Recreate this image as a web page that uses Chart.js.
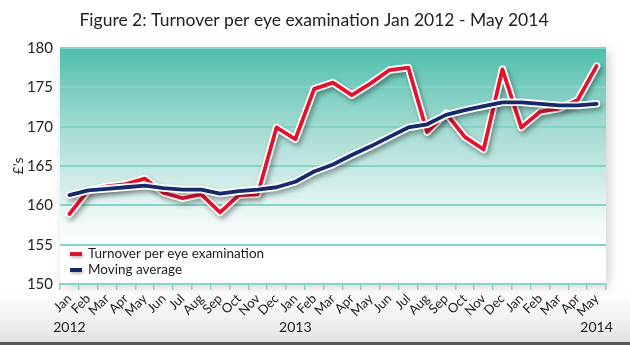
<!DOCTYPE html>
<html>
<head>
<meta charset="utf-8">
<script src="https://cdn.jsdelivr.net/npm/chart.js@4.4.1/dist/chart.umd.min.js"></script>
<style>
  html, body { margin: 0; padding: 0; background: #fff; }
  #wrap { position: relative; width: 630px; height: 345px; }
</style>
</head>
<body>
<div id="wrap"><canvas id="chart-turnover" width="630" height="345"></canvas></div>
<script>
// Months Jan 2012 - May 2014
var months = ["Jan", "Feb", "Mar", "Apr", "May", "Jun", "Jul", "Aug", "Sep", "Oct", "Nov", "Dec",
              "Jan", "Feb", "Mar", "Apr", "May", "Jun", "Jul", "Aug", "Sep", "Oct", "Nov", "Dec",
              "Jan", "Feb", "Mar", "Apr", "May"];
// year label + index of month it sits under
var years = ["2012", "2013", "2014"];
var yearIndex = [0, 12, 28];

var turnover = [158.9, 161.9, 162.4, 162.7, 163.4, 161.6, 160.9, 161.4, 159.1, 161.3, 161.4, 169.9,
                168.4, 174.8, 175.6, 174.0, 175.5, 177.2, 177.5, 169.3, 171.7, 168.7, 167.1, 177.3,
                169.9, 171.9, 172.3, 173.4, 177.7];
var movingAvg = [161.3, 161.9, 162.1, 162.3, 162.5, 162.2, 162.0, 162.0, 161.5, 161.8, 162.0, 162.3,
                 163.0, 164.3, 165.2, 166.4, 167.5, 168.7, 169.9, 170.3, 171.5, 172.1, 172.6, 173.1,
                 173.1, 172.9, 172.7, 172.7, 172.9];
var yTicks = [150, 155, 160, 165, 170, 175, 180];

var teal = "#86d4c8";
var red = "#e3122d";
var navy = "#15296b";
var fontMain = "Lato, sans-serif";

document.addEventListener("DOMContentLoaded", function() {
    var ctx = document.getElementById("chart-turnover");

    // achtergrond, titel en jaartallen
    var decor = {
        id: "decor",
        beforeDraw: function(chart) {
            var c = chart.ctx, a = chart.chartArea;
            c.save();
            c.fillStyle = "#fff";
            c.fillRect(0, 0, chart.width, chart.height);
            // soft panel shadow
            var sg = c.createLinearGradient(0, 290, 0, 343);
            sg.addColorStop(0, "rgba(235,235,235,0)");
            sg.addColorStop(1, "rgba(225,225,225,1)");
            c.fillStyle = sg;
            c.fillRect(0, 290, chart.width, 53);
            c.fillStyle = "#5a5a5a";
            c.fillRect(0, 342, chart.width, 3);
            c.shadowColor = "rgba(0,0,0,0.18)";
            c.shadowBlur = 10;
            c.shadowOffsetX = 3;
            c.shadowOffsetY = 3;
            c.fillStyle = "#fff";
            c.fillRect(a.left, a.top, a.right - a.left, a.bottom - a.top);
            c.shadowColor = "transparent";
            var g = c.createLinearGradient(0, a.top, 0, a.bottom);
            g.addColorStop(0, "#4fbfad");
            g.addColorStop(0.35, "#a6dcd3");
            g.addColorStop(0.75, "#f3faf9");
            g.addColorStop(0.88, "#ffffff");
            c.fillStyle = g;
            c.fillRect(a.left, a.top, a.right - a.left, a.bottom - a.top);
            c.restore();
        },
        afterDraw: function(chart) {
            var c = chart.ctx, a = chart.chartArea, x = chart.scales.x;
            c.save();
            c.fillStyle = "#222";
            c.font = "normal 17.5px " + fontMain;
            c.textAlign = "center";
            c.textBaseline = "middle";
            c.fillText("Figure 2: Turnover per eye examination Jan 2012 - May 2014", 314, 20);
            c.font = "normal 14px " + fontMain;
            for (var i = 0; i < years.length; i++) {
                c.fillText(years[i], x.getPixelForValue(yearIndex[i]), 327);
            }
            // legend binnen de grafiek
            var items = [chart.data.datasets[0], chart.data.datasets[1]];
            c.font = "normal 13.5px " + fontMain;
            c.textAlign = "left";
            for (var j = 0; j < items.length; j++) {
                var ly = 254 + j * 16;
                c.shadowColor = "rgba(0,0,0,0.25)";
                c.shadowBlur = 3;
                c.shadowOffsetX = 1;
                c.shadowOffsetY = 2;
                c.strokeStyle = items[j].borderColor;
                c.lineWidth = 4;
                c.beginPath();
                c.moveTo(a.left + 10, ly);
                c.lineTo(a.left + 22, ly);
                c.stroke();
                c.shadowColor = "transparent";
                c.fillStyle = "#222";
                c.fillText(items[j].label, a.left + 28, ly);
            }
            c.restore();
        }
    };

    // witte rand met schaduw onder elke lijn
    var outline = {
        id: "outline",
        beforeDatasetDraw: function(chart, args) {
            var pts = args.meta.data, c = chart.ctx;
            c.save();
            c.shadowColor = "rgba(0,0,0,0.35)";
            c.shadowBlur = 5;
            c.shadowOffsetX = 2;
            c.shadowOffsetY = 3;
            c.strokeStyle = "#fff";
            c.lineWidth = 7.5;
            c.lineJoin = "round";
            c.lineCap = "round";
            c.beginPath();
            for (var i = 0; i < pts.length; i++) {
                if (i === 0) c.moveTo(pts[i].x, pts[i].y); else c.lineTo(pts[i].x, pts[i].y);
            }
            c.stroke();
            c.restore();
        }
    };

    var data = {
        labels: months,
        datasets: [{
            label: "Turnover per eye examination",
            data: turnover,
            borderColor: red,
            borderWidth: 3.8,
            pointRadius: 0,
            tension: 0,
            order: 2,
            borderJoinStyle: "round",
            borderCapStyle: "round"
        }, {
            label: "Moving average",
            data: movingAvg,
            borderColor: navy,
            borderWidth: 3.8,
            pointRadius: 0,
            tension: 0,
            order: 1,
            borderJoinStyle: "round",
            borderCapStyle: "round"
        }]
    };

    var options = {
        responsive: false,
        animation: false,
        layout: { padding: { top: 48, right: 24, left: 0, bottom: 0 } },
        plugins: {
            legend: { display: false },
            title: { display: false },
            tooltip: { enabled: false }
        },
        scales: {
            x: {
                offset: true,
                grid: {
                    offset: true,
                    drawOnChartArea: false,
                    drawTicks: true,
                    tickLength: 6,
                    color: teal,
                    lineWidth: 1.5
                },
                border: { color: teal, width: 2 },
                ticks: {
                    color: "#222",
                    font: { size: 13, family: fontMain, weight: "normal" },
                    maxRotation: 45,
                    minRotation: 45,
                    autoSkip: false,
                    padding: 1
                },
                afterFit: function(scale) { scale.height = 61; }
            },
            y: {
                min: 150,
                max: 180,
                afterBuildTicks: function(scale) {
                    scale.ticks = yTicks.map(function(v) { return { value: v }; });
                },
                grid: { color: teal, lineWidth: 2, drawTicks: false },
                border: { display: false },
                ticks: {
                    color: "#222",
                    font: { size: 15, family: fontMain, weight: "normal" },
                    padding: 7
                },
                title: {
                    display: true,
                    text: "£'s",
                    color: "#222",
                    font: { size: 14, family: fontMain, weight: "normal" },
                    padding: { top: 10, bottom: 0 }
                },
                afterFit: function(scale) { scale.width = 60; }
            }
        }
    };

    new Chart(ctx, {
        type: "line",
        data: data,
        options: options,
        plugins: [decor, outline]
    });
});
</script>
</body>
</html>
